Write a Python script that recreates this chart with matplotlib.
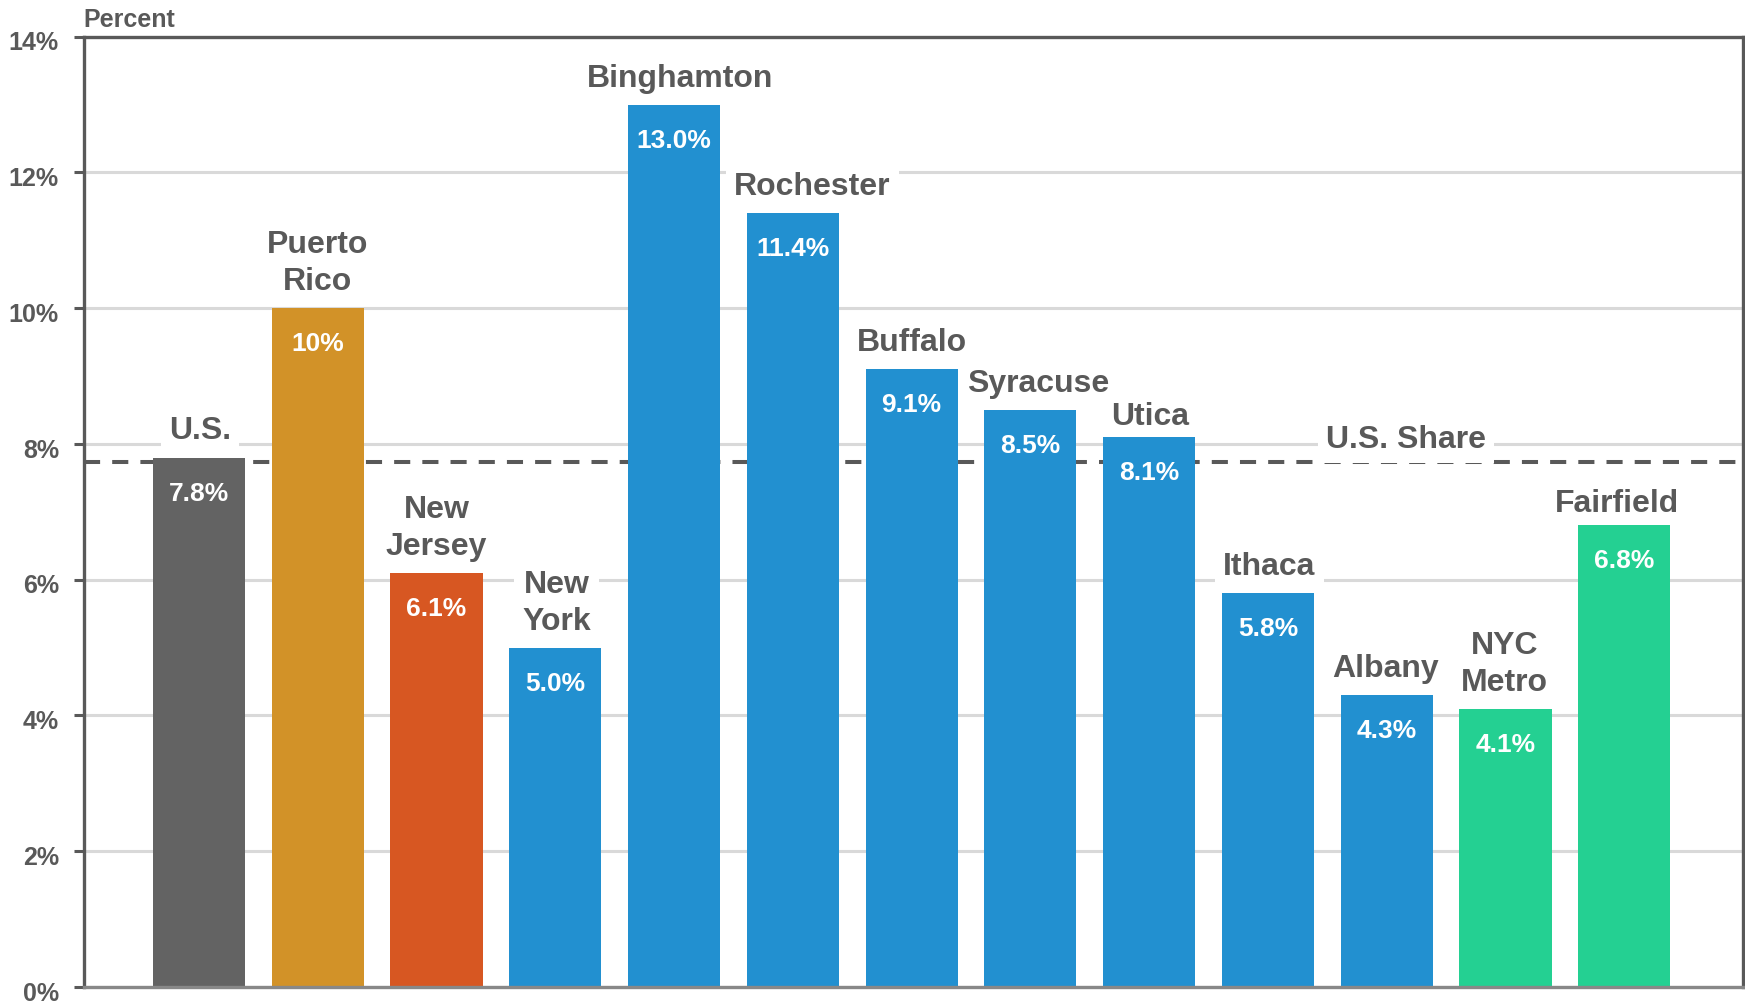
#!/usr/bin/env python3
import matplotlib
matplotlib.use('Agg')
import matplotlib.pyplot as plt
import matplotlib.transforms as mtransforms

places = ['U.S.', 'Puerto\nRico', 'New\nJersey', 'New\nYork', 'Binghamton',
          'Rochester', 'Buffalo', 'Syracuse', 'Utica', 'Ithaca', 'Albany',
          'NYC\nMetro', 'Fairfield']
shares = [7.8, 10.0, 6.1, 5.0, 13.0, 11.4, 9.1, 8.5, 8.1, 5.8, 4.3, 4.1, 6.8]
share_labels = ['7.8%', '10%', '6.1%', '5.0%', '13.0%', '11.4%', '9.1%',
                '8.5%', '8.1%', '5.8%', '4.3%', '4.1%', '6.8%']
us_share = 7.73
yticks = [0, 2, 4, 6, 8, 10, 12, 14]

# small nudges (points) for the place names so they clear neighbouring bars
name_dx = [1, 0, 0, 1, 4, 14, 0, 5.5, 1, 1, -1, -1, -5.5]
name_dy = [13, 13, 13, 13, 13, 13, 13, 13, 9, 13, 13, 13, 10]

gray = '#636363'
orange = '#D29228'
red = '#D75722'
blue = '#2290D0'
green = '#24D092'
colors = [gray, orange, red] + [blue] * 8 + [green, green]
text_gray = '#595959'

plt.rcParams['font.family'] = ['Liberation Sans', 'DejaVu Sans']
plt.rcParams['font.weight'] = 'bold'

fig = plt.figure(figsize=(17.45, 10.05), dpi=100)
ax = fig.add_axes([0.0481, 0.0179, 0.9508, 0.9456])

x = list(range(len(places)))
ax.bar(x, shares, width=0.775, color=colors, zorder=2)

# dashed U.S. reference line sits behind the bars
ax.axhline(us_share, color=text_gray, lw=2.9, dashes=(4, 3), zorder=1.5)

# white boxes knock out the gridlines but stay under the bars
box = dict(boxstyle='square,pad=0.25', fc='white', ec='none')
for xi, v, name, lab, dx, dy in zip(x, shares, places, share_labels,
                                    name_dx, name_dy):
    ax.annotate(name, (xi, v), xytext=(dx, dy), textcoords='offset points',
                ha='center', va='baseline', fontsize=23, color=text_gray,
                fontweight='bold', linespacing=1.3, bbox=box, zorder=1.8)
    ax.annotate(lab, (xi, v), xytext=(0, -31), textcoords='offset points',
                ha='center', va='baseline', fontsize=19, color='white',
                fontweight='bold', zorder=4)

ax.text(10.16, 7.94, 'U.S. Share', ha='center', va='baseline', fontsize=23,
        color=text_gray, fontweight='bold', bbox=box, zorder=1.8)

ax.set_xlim(-0.968, 13.0)
ax.set_ylim(0, 14)
ax.set_xticks([])
ax.set_yticks(yticks)
ax.set_yticklabels([f'{t}%' for t in yticks])
ax.tick_params(axis='y', length=7, width=2.2, color=text_gray, pad=11,
               labelsize=18, labelcolor=text_gray)
shift = mtransforms.ScaledTranslation(0, -3 / 72, fig.dpi_scale_trans)
for t in ax.get_yticklabels():
    t.set_fontweight('bold')
    t.set_transform(t.get_transform() + shift)

ax.grid(axis='y', color='#D9D9D9', lw=2.2, zorder=0)
ax.set_axisbelow(True)
for side in ['left', 'top', 'right']:
    ax.spines[side].set_color(text_gray)
    ax.spines[side].set_linewidth(2.4)
ax.spines['bottom'].set_color('#888888')
ax.spines['bottom'].set_linewidth(2.4)

fig.text(0.0476, 0.973, 'Percent', ha='left', va='baseline', fontsize=18,
         color=text_gray, fontweight='bold')

fig.savefig('out.png', dpi=100)
